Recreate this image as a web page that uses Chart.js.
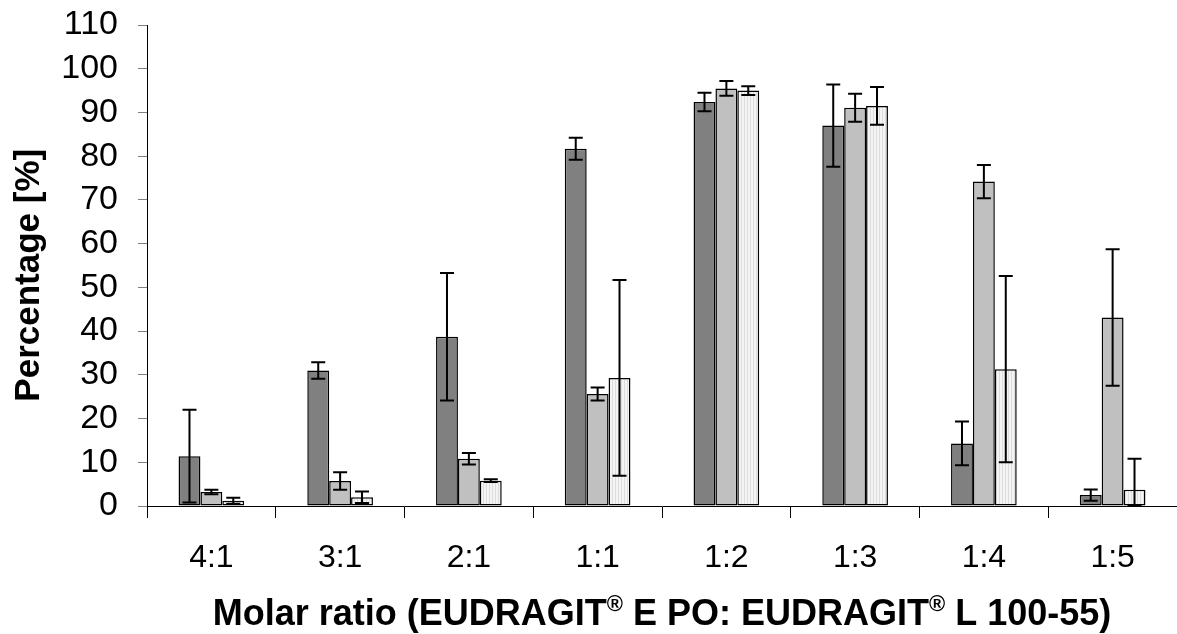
<!DOCTYPE html>
<html>
<head>
<meta charset="utf-8">
<script src="https://cdn.jsdelivr.net/npm/chart.js@4/dist/chart.umd.min.js"></script>
<style>
  html, body { margin: 0; padding: 0; background: #fff; }
  #wrap { width: 1177px; height: 634px; position: relative; }
</style>
</head>
<body>
<div id="wrap"><canvas id="chart"></canvas></div>
<script>
// categories (molar ratio)
const ratios = ['4:1', '3:1', '2:1', '1:1', '1:2', '1:3', '1:4', '1:5'];

// three series, mean values and +/- errors
const darkVals  = [11.4, 31.0, 38.7, 81.7, 92.4, 87.0, 14.3, 2.5];
const darkErr   = [10.6, 1.9, 14.6, 2.5, 2.1, 9.4, 5.0, 1.3];
const grayVals  = [3.2, 5.7, 10.8, 25.6, 95.5, 91.1, 74.2, 43.1];
const grayErr   = [0.5, 2.0, 1.3, 1.5, 1.7, 3.2, 3.8, 15.6];
const lightVals = [1.2, 2.0, 5.8, 29.3, 95.0, 91.5, 31.3, 3.7];
const lightErr  = [0.7, 1.3, 0.3, 22.4, 1.0, 4.3, 21.3, 7.1];

const yTicks = [0, 10, 20, 30, 40, 50, 60, 70, 80, 90, 100, 110];

// x title pieces, the ® signs are raised
const xTitle = [
    ['Molar ratio (EUDRAGIT', false], ['®', true],
    [' E PO: EUDRAGIT', false], ['®', true], [' L 100-55)', false]
];

const FONT = 'Liberation Sans, Arial, sans-serif';

// faint vertical stripes for the light series
function stripes() {
    const c = document.createElement('canvas');
    c.width = 3; c.height = 10;
    const g = c.getContext('2d');
    g.fillStyle = '#f4f4f4';
    g.fillRect(0, 0, 3, 10);
    g.fillStyle = '#dcdcdc';
    g.fillRect(0, 0, 1, 10);
    return g.createPattern(c, 'repeat');
}

const errorBars = {
    id: 'errorBars',
    afterDatasetsDraw(chart) {
        const ctx = chart.ctx;
        const y = chart.scales.y;
        ctx.save();
        ctx.strokeStyle = '#000';
        ctx.lineWidth = 2;
        chart.data.datasets.forEach((ds, i) => {
            const meta = chart.getDatasetMeta(i);
            meta.data.forEach((bar, j) => {
                const v = ds.data[j], e = ds.errors[j];
                const top = y.getPixelForValue(v + e);
                const bot = y.getPixelForValue(Math.max(v - e, 0));
                const x = bar.x, cap = 7;
                ctx.beginPath();
                ctx.moveTo(x, top); ctx.lineTo(x, bot);
                ctx.moveTo(x - cap, top); ctx.lineTo(x + cap, top);
                ctx.moveTo(x - cap, bot); ctx.lineTo(x + cap, bot);
                ctx.stroke();
            });
        });
        ctx.restore();
    }
};

// x axis title with superscript marks
const xTitlePlugin = {
    id: 'xTitle',
    afterDraw(chart) {
        const ctx = chart.ctx;
        const area = chart.chartArea;
        const big = 'bold 36px ' + FONT, small = 'bold 22px ' + FONT;
        ctx.save();
        ctx.fillStyle = '#000';
        ctx.textBaseline = 'alphabetic';
        let w = 0;
        xTitle.forEach(([t, sup]) => { ctx.font = sup ? small : big; w += ctx.measureText(t).width; });
        let x = (area.left + area.right) / 2 - w / 2;
        const base = 625;
        xTitle.forEach(([t, sup]) => {
            ctx.font = sup ? small : big;
            ctx.fillText(t, x, sup ? base - 14 : base);
            x += ctx.measureText(t).width;
        });
        ctx.restore();
    }
};

const ctx = document.getElementById('chart').getContext('2d');
const chart = new Chart(ctx, {
    type: 'bar',
    data: {
        labels: ratios,
        datasets: [
            { label: 'A', data: darkVals, errors: darkErr, backgroundColor: '#808080' },
            { label: 'B', data: grayVals, errors: grayErr, backgroundColor: '#c0c0c0' },
            { label: 'C', data: lightVals, errors: lightErr, backgroundColor: stripes() }
        ].map(d => Object.assign(d, {
            borderColor: '#000',
            borderWidth: 1.5,
            borderSkipped: false,
            categoryPercentage: 0.51,
            barPercentage: 1.0
        }))
    },
    options: {
        responsive: true,
        maintainAspectRatio: false,
        animation: false,
        layout: { padding: { top: 25, right: 0, left: 0, bottom: 0 } },
        plugins: { legend: { display: false }, tooltip: { enabled: false } },
        scales: {
            x: {
                offset: true,
                grid: { offset: true, drawOnChartArea: false, drawTicks: true, tickLength: 12, color: '#000', lineWidth: 1 },
                border: { color: '#000', width: 1 },
                ticks: { color: '#000', padding: 21, autoSkip: false, maxRotation: 0, font: { family: FONT, size: 32 } },
                title: { display: false },
                afterFit(s) { s.height = 128; }
            },
            y: {
                min: 0,
                max: 110,
                afterBuildTicks(s) { s.ticks = yTicks.map(v => ({ value: v })); },
                grid: { drawOnChartArea: false, drawTicks: true, tickLength: 9, color: '#808080' },
                border: { color: '#000', width: 1 },
                ticks: { color: '#000', padding: 20, autoSkip: false, font: { family: FONT, size: 34 } },
                title: {
                    display: true,
                    text: 'Percentage [%]  ',
                    color: '#000',
                    font: { family: FONT, size: 35, weight: 'bold' },
                    padding: { top: 8, bottom: 0 }
                },
                afterFit(s) { s.width = 147; s.paddingTop = 0; s.paddingBottom = 0; }
            }
        }
    },
    plugins: [errorBars, xTitlePlugin]
});
</script>
</body>
</html>
